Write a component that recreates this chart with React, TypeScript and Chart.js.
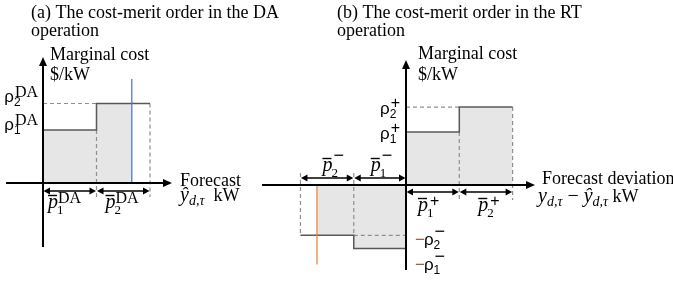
import React, { useEffect, useRef } from "react";
import { Chart, registerables } from "chart.js";

Chart.register(...registerables);

// ---------------- data ----------------
// Panel (a): cost-merit order in the day-ahead (DA) operation
const daCapacities = [1.0, 1.0]; // p̄1^DA, p̄2^DA (kW blocks)
const daCosts = [1.0, 1.5]; // ρ1^DA, ρ2^DA ($/kW)
const daForecast = 1.66; // ŷ_{d,τ} (blue marker)
const daForecastMarkerTop = 1.96;

// Panel (b): cost-merit order in the real-time (RT) operation
const rtUpCapacities = [1.0, 1.0]; // p̄1^+, p̄2^+
const rtUpCosts = [1.0, 1.47]; // ρ1^+, ρ2^+
const rtDownCapacities = [0.98, 1.0]; // p̄1^-, p̄2^-
const rtDownCosts = [1.2, 0.95]; // ρ1^-, ρ2^-
const rtDeviation = -1.67; // y − ŷ (orange marker)
const rtDeviationMarkerBottom = -1.5;

// text
const titleA = ["(a) The cost-merit order in the DA", "operation"];
const titleB = ["(b) The cost-merit order in the RT", "operation"];
const yAxisTitle = ["Marginal cost", "$/kW"];
const xAxisTitleA = "Forecast";
const xAxisTitleB = "Forecast deviation";

// ---------------- layout ----------------
const W = 673;
const H = 285;
const A_O = { x: 43, y: 183 };
const A_U = { x: 53.5, y: 53 };
const B_O = { x: 406, y: 185 };
const B_U = { x: 53.3, y: 53 };

const SERIF = '"Liberation Serif", "Times New Roman", serif';
const SANS = '"Liberation Sans", Arial, sans-serif';
const MAIN = `18px ${SERIF}`;
const ITAL = `italic 18px ${SERIF}`;
const MATH = `italic 20px ${SERIF}`;
const MATH_SUB = `italic 14px ${SERIF}`;
const RHO = `17px ${SANS}`;
const SUB = `12px ${SANS}`;
const PSUB = `13px ${SERIF}`;

const FILL = "#e6e6e6";
const STEP = "#595959";
const DASH = "#8f8f8f";

function seg(data: any[], x: string, y: string, style: any) {
  return {
    type: "scatter",
    data,
    xAxisID: x,
    yAxisID: y,
    showLine: true,
    pointRadius: 0,
    pointHoverRadius: 0,
    fill: false,
    ...style,
  };
}

function txt(ctx: CanvasRenderingContext2D, s: string, x: number, y: number, font: string, color = "#000") {
  ctx.font = font;
  ctx.fillStyle = color;
  ctx.textAlign = "left";
  ctx.textBaseline = "alphabetic";
  ctx.fillText(s, x, y);
  return ctx.measureText(s).width;
}

function meas(ctx: CanvasRenderingContext2D, s: string, font: string) {
  ctx.font = font;
  return ctx.measureText(s).width;
}

function axisArrow(ctx: CanvasRenderingContext2D, x1: number, y1: number, x2: number, y2: number) {
  const len = 9;
  const half = 4;
  const dx = x2 - x1;
  const dy = y2 - y1;
  const d = Math.hypot(dx, dy);
  const ux = dx / d;
  const uy = dy / d;
  ctx.strokeStyle = "#000";
  ctx.lineWidth = 2;
  ctx.beginPath();
  ctx.moveTo(x1, y1);
  ctx.lineTo(x2 - ux * len, y2 - uy * len);
  ctx.stroke();
  ctx.fillStyle = "#000";
  ctx.beginPath();
  ctx.moveTo(x2, y2);
  ctx.lineTo(x2 - ux * len - uy * half, y2 - uy * len + ux * half);
  ctx.lineTo(x2 - ux * len + uy * half, y2 - uy * len - ux * half);
  ctx.closePath();
  ctx.fill();
}

function dimArrow(ctx: CanvasRenderingContext2D, x1: number, x2: number, y: number) {
  const len = 7;
  const half = 3.5;
  ctx.strokeStyle = "#000";
  ctx.fillStyle = "#000";
  ctx.lineWidth = 1.5;
  ctx.beginPath();
  ctx.moveTo(x1 + len - 1, y);
  ctx.lineTo(x2 - len + 1, y);
  ctx.stroke();
  ctx.beginPath();
  ctx.moveTo(x1 + 0.5, y);
  ctx.lineTo(x1 + len, y - half);
  ctx.lineTo(x1 + len, y + half);
  ctx.closePath();
  ctx.fill();
  ctx.beginPath();
  ctx.moveTo(x2 - 0.5, y);
  ctx.lineTo(x2 - len, y - half);
  ctx.lineTo(x2 - len, y + half);
  ctx.closePath();
  ctx.fill();
}

// ρ with subscript and superscript; returns width
function rho(
  ctx: CanvasRenderingContext2D,
  x: number,
  base: number,
  sub: string,
  sup: string,
  supFont: string,
  supDx: number,
  supDy: number,
  draw = true
) {
  const wr = meas(ctx, "ρ", RHO);
  const ws = meas(ctx, sub, SUB);
  const wp = meas(ctx, sup, supFont);
  if (draw) {
    txt(ctx, "ρ", x, base, RHO);
    txt(ctx, sub, x + wr, base + 4, SUB);
    txt(ctx, sup, x + wr + supDx, base + supDy, supFont);
  }
  return wr + Math.max(ws, supDx + wp);
}

function pbar(
  ctx: CanvasRenderingContext2D,
  x: number,
  base: number,
  sub: string,
  sup: string,
  supFont: string,
  supDx: number,
  supDy: number
) {
  const wp = txt(ctx, "p", x, base, MATH);
  ctx.strokeStyle = "#000";
  ctx.lineWidth = 1.4;
  ctx.beginPath();
  ctx.moveTo(x, base - 12.5);
  ctx.lineTo(x + wp - 1, base - 12.5);
  ctx.stroke();
  txt(ctx, sub, x + wp - 1, base + 6, PSUB);
  txt(ctx, sup, x + wp + supDx, base + supDy, supFont);
}

const diagramPlugin = {
  id: "diagram",
  afterDatasetsDraw(chart: any) {
    const ctx: CanvasRenderingContext2D = chart.ctx;
    const { xa, ya, xb, yb } = chart.scales;
    const ax = xa.getPixelForValue(0);
    const ay = ya.getPixelForValue(0);
    const bx = xb.getPixelForValue(0);
    const by = yb.getPixelForValue(0);
    ctx.save();

    // axes
    axisArrow(ctx, ax - 37, ay, ax + 129, ay);
    axisArrow(ctx, ax, ay + 64, ax, ay - 126);
    axisArrow(ctx, bx - 144, by, bx + 129, by);
    axisArrow(ctx, bx, by + 85, bx, by - 125);

    // dimension arrows (a)
    const a1 = daCapacities[0];
    const a2 = a1 + daCapacities[1];
    const pa0 = xa.getPixelForValue(0);
    const pa1 = xa.getPixelForValue(a1);
    const pa2 = xa.getPixelForValue(a2);
    dimArrow(ctx, pa0, pa1, ay + 8);
    dimArrow(ctx, pa1, pa2, ay + 8);

    // dimension arrows (b)
    const u1 = rtUpCapacities[0];
    const u2 = u1 + rtUpCapacities[1];
    const d1 = -rtDownCapacities[0];
    const d2 = d1 - rtDownCapacities[1];
    const pb0 = xb.getPixelForValue(0);
    const pu1 = xb.getPixelForValue(u1);
    const pu2 = xb.getPixelForValue(u2);
    const pd1 = xb.getPixelForValue(d1);
    const pd2 = xb.getPixelForValue(d2);
    dimArrow(ctx, pd2, pd1, by - 7);
    dimArrow(ctx, pd1, pb0, by - 7);
    dimArrow(ctx, pb0, pu1, by + 7);
    dimArrow(ctx, pu1, pu2, by + 7);

    // titles
    txt(ctx, titleA[0], 31, 18, MAIN);
    txt(ctx, titleA[1], 31, 36, MAIN);
    txt(ctx, titleB[0], 337, 18, MAIN);
    txt(ctx, titleB[1], 337, 36, MAIN);

    // y axis titles
    txt(ctx, yAxisTitle[0], ax + 7, 60, MAIN);
    txt(ctx, yAxisTitle[1], ax + 7, 80, MAIN);
    txt(ctx, yAxisTitle[0], bx + 12, 59, MAIN);
    txt(ctx, yAxisTitle[1], bx + 12, 80, MAIN);

    // x axis titles (a)
    txt(ctx, xAxisTitleA, ax + 137, ay + 3, MAIN);
    {
      let x = ax + 137;
      const b = ay + 18;
      x += txt(ctx, "ŷ", x, b, MATH);
      x += txt(ctx, "d,τ", x, b + 4, MATH_SUB);
      txt(ctx, "  kW", x, b, MAIN);
    }
    // x axis titles (b)
    txt(ctx, xAxisTitleB, bx + 136, by - 1, MAIN);
    {
      let x = bx + 132;
      const b = by + 17;
      x += txt(ctx, "y", x, b, MATH);
      x += txt(ctx, "d,τ", x, b + 4, MATH_SUB);
      x += txt(ctx, " − ", x, b, `20px ${SERIF}`);
      x += txt(ctx, "ŷ", x, b, MATH);
      x += txt(ctx, "d,τ", x, b + 4, MATH_SUB);
      txt(ctx, " kW", x, b, MAIN);
    }

    // ρ labels (a)
    const DA_FONT = `16px ${SERIF}`;
    const PLUS_FONT = `16px ${SANS}`;
    const MINUS_FONT = `18px ${SANS}`;
    for (let i = 0; i < 2; i++) {
      const base = ya.getPixelForValue(daCosts[i]) - (i === 1 ? 2 : 0);
      const w = rho(ctx, 0, base, String(i + 1), "DA", DA_FONT, 1, -5, false);
      rho(ctx, ax - 5 - w, base, String(i + 1), "DA", DA_FONT, 1, -5);
    }
    // ρ labels (b) positive
    for (let i = 0; i < 2; i++) {
      const base = yb.getPixelForValue(rtUpCosts[i]) + 7;
      const w = rho(ctx, 0, base, String(i + 1), "+", PLUS_FONT, 1, -6, false);
      rho(ctx, bx - 6 - w, base, String(i + 1), "+", PLUS_FONT, 1, -6);
    }
    // −ρ labels (b) negative
    {
      const rows = [
        { i: 2, base: by + 60 },
        { i: 1, base: by + 85 },
      ];
      for (const r of rows) {
        const x = bx + 9;
        const wm = txt(ctx, "−", x, r.base, `17px ${SANS}`, "#a0524a");
        rho(ctx, x + wm - 1, r.base, String(r.i), "−", MINUS_FONT, 1, -8);
      }
    }

    // p̄ labels
    pbar(ctx, pa0 + 5, ay + 25, "1", "DA", DA_FONT, 0, -5);
    pbar(ctx, pa1 + 9, ay + 25, "2", "DA", DA_FONT, 0, -5);
    pbar(ctx, pd2 + 22, by - 14, "2", "−", MINUS_FONT, 1, -10);
    pbar(ctx, pd1 + 17, by - 14, "1", "−", MINUS_FONT, 1, -10);
    pbar(ctx, pb0 + 12, by + 26, "1", "+", PLUS_FONT, 2, -5);
    pbar(ctx, pu1 + 19, by + 26, "2", "+", PLUS_FONT, 2, -5);

    ctx.restore();
  },
};

export default function App() {
  const ref = useRef<HTMLCanvasElement | null>(null);

  useEffect(() => {
    if (!ref.current) return;

    // panel (a)
    const a1 = daCapacities[0];
    const a2 = a1 + daCapacities[1];
    const [r1, r2] = daCosts;
    const aGuide = -14 / A_U.y;

    // panel (b)
    const u1 = rtUpCapacities[0];
    const u2 = u1 + rtUpCapacities[1];
    const [q1, q2] = rtUpCosts;
    const d1 = -rtDownCapacities[0];
    const d2 = d1 - rtDownCapacities[1];
    const [n1, n2] = rtDownCosts;
    const bGuideDown = -15 / B_U.y;
    const bGuideUp = 12 / B_U.y;

    const fillStyle = { fill: "origin", backgroundColor: FILL, borderWidth: 0, borderColor: "rgba(0,0,0,0)", order: 5 };
    const dashStyle = { borderColor: DASH, borderWidth: 1.2, borderDash: [4, 3], order: 4 };
    const stepStyle = { borderColor: STEP, borderWidth: 1.5, order: 3 };

    const datasets: any[] = [
      // (a)
      seg([{ x: 0, y: r1 }, { x: a1, y: r1 }, { x: a1, y: r2 }, { x: daForecast, y: r2 }], "xa", "ya", fillStyle),
      seg([{ x: 0, y: r2 }, { x: a1, y: r2 }], "xa", "ya", dashStyle),
      seg([{ x: a1, y: r1 }, { x: a1, y: aGuide }], "xa", "ya", dashStyle),
      seg([{ x: a2, y: r2 }, { x: a2, y: aGuide }], "xa", "ya", dashStyle),
      seg([{ x: 0, y: r1 }, { x: a1, y: r1 }, { x: a1, y: r2 }, { x: a2, y: r2 }], "xa", "ya", stepStyle),
      seg([{ x: daForecast, y: 0 }, { x: daForecast, y: daForecastMarkerTop }], "xa", "ya", {
        borderColor: "#4472c4",
        borderWidth: 1.2,
        order: 2,
      }),
      // (b) upward
      seg([{ x: 0, y: q1 }, { x: u1, y: q1 }, { x: u1, y: q2 }, { x: u2, y: q2 }], "xb", "yb", fillStyle),
      seg([{ x: 0, y: q2 }, { x: u1, y: q2 }], "xb", "yb", dashStyle),
      seg([{ x: u1, y: q1 }, { x: u1, y: bGuideDown }], "xb", "yb", dashStyle),
      seg([{ x: u2, y: q2 }, { x: u2, y: bGuideDown }], "xb", "yb", dashStyle),
      seg([{ x: 0, y: q1 }, { x: u1, y: q1 }, { x: u1, y: q2 }, { x: u2, y: q2 }], "xb", "yb", stepStyle),
      // (b) downward
      seg([{ x: rtDeviation, y: -n2 }, { x: d1, y: -n2 }, { x: d1, y: -n1 }, { x: 0, y: -n1 }], "xb", "yb", fillStyle),
      seg([{ x: d1, y: -n2 }, { x: 0, y: -n2 }], "xb", "yb", dashStyle),
      seg([{ x: d1, y: bGuideUp }, { x: d1, y: -n2 }], "xb", "yb", dashStyle),
      seg([{ x: d2, y: bGuideUp }, { x: d2, y: -n2 }], "xb", "yb", dashStyle),
      seg([{ x: d2, y: -n2 }, { x: d1, y: -n2 }, { x: d1, y: -n1 }, { x: 0, y: -n1 }], "xb", "yb", stepStyle),
      seg([{ x: rtDeviation, y: 0 }, { x: rtDeviation, y: rtDeviationMarkerBottom }], "xb", "yb", {
        borderColor: "#ed7d31",
        borderWidth: 1.2,
        order: 2,
      }),
    ];

    const hidden = { display: false, grid: { display: false } };
    const chart = new Chart(ref.current, {
      type: "scatter",
      data: { datasets },
      options: {
        animation: false,
        responsive: false,
        events: [],
        layout: { padding: 0 },
        plugins: { legend: { display: false }, tooltip: { enabled: false }, title: { display: false } },
        scales: {
          xa: { type: "linear", position: "bottom", min: -A_O.x / A_U.x, max: (W - A_O.x) / A_U.x, ...hidden },
          ya: { type: "linear", position: "left", min: -(H - A_O.y) / A_U.y, max: A_O.y / A_U.y, ...hidden },
          xb: { type: "linear", position: "bottom", min: -B_O.x / B_U.x, max: (W - B_O.x) / B_U.x, ...hidden },
          yb: { type: "linear", position: "left", min: -(H - B_O.y) / B_U.y, max: B_O.y / B_U.y, ...hidden },
        },
      } as any,
      plugins: [diagramPlugin as any],
    });
    return () => chart.destroy();
  }, []);

  return (
    <div style={{ position: "absolute", left: 0, top: 0, width: W, height: H, background: "#fff" }}>
      <canvas ref={ref} width={W} height={H} style={{ display: "block", width: W, height: H }} />
    </div>
  );
}
